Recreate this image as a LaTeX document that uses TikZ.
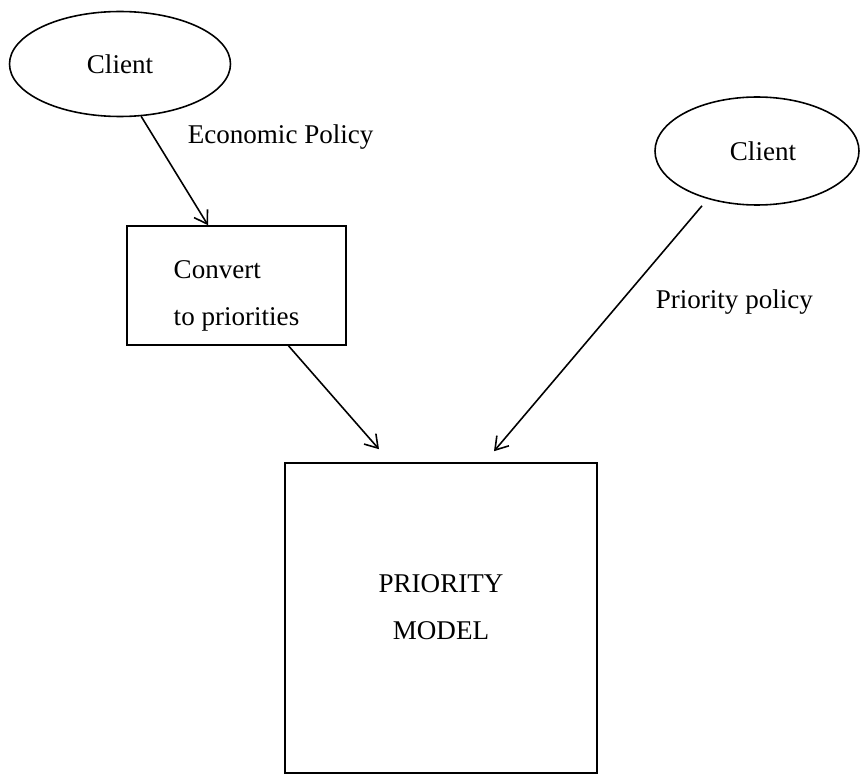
\documentclass[tikz,border=0pt]{standalone}
\usepackage{fontspec}
\setmainfont{Liberation Serif}
\usetikzlibrary{shapes.geometric,arrows.meta}

\tikzset{
  client/.style={draw,ellipse,inner sep=0pt},
  stage/.style={draw,rectangle,inner sep=0pt},
  lbl/.style={anchor=west,inner sep=0pt},
}

\begin{document}
\begin{tikzpicture}[line width=0.9pt,>={Straight Barb[length=7pt,width=9pt]},
  every node/.style={font=\fontsize{15.4}{26.7}\selectfont}]
  \useasboundingbox (0,0) rectangle (17.2,15.46);
  % clients
  \node[client,minimum width=4.42cm,minimum height=2.1cm] (cl1) at (2.4,14.18) {Client};
  \node[client,minimum width=4.08cm,minimum height=2.16cm] (cl2) at (15.14,12.44) {};
  \node (cl2txt) at ([xshift=0.12cm]cl2.center) {Client};
  % boxes
  \node[stage,minimum width=4.38cm,minimum height=2.38cm] (conv) at (4.73,9.75) {};
  \node[align=left] (convtxt) at ([yshift=-0.2cm]conv.center) {Convert\\to priorities};
  \node[stage,minimum width=6.24cm,minimum height=6.2cm] (prio) at (8.82,3.1) {};
  \node[align=center] (priotxt) at ([yshift=0.22cm]prio.center) {PRIORITY\\MODEL};
  % policies
  \draw[->] (cl1.-68) -- ([xshift=-0.57cm]conv.north);
  \draw[->] ([xshift=1.04cm]conv.south) -- ([xshift=-1.24cm,yshift=0.26cm]prio.north);
  \draw[->] ([xshift=-1.1cm]cl2.south) -- ([xshift=1.06cm,yshift=0.22cm]prio.north);
  \node[lbl] (econ) at (3.74,12.72) {Economic Policy};
  \node[lbl] (prpol) at (13.1,9.42) {Priority policy};
\end{tikzpicture}
\end{document}
